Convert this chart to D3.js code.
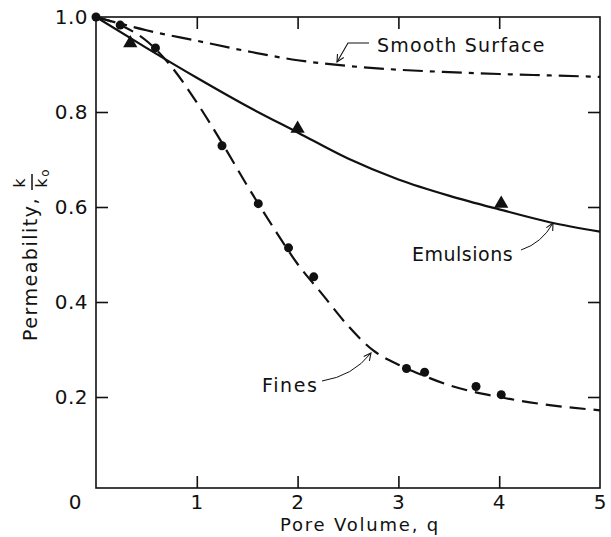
<!DOCTYPE html>
<html>
<head>
<meta charset="utf-8">
<script src="https://cdn.jsdelivr.net/npm/d3@7"></script>
<style>
  body { margin: 0; background: #fff; }
  text { font-family: "DejaVu Sans", sans-serif; fill: #111; }
</style>
</head>
<body>
<div id="chart"></div>
<script>
// curve values
var fines_q = [0, 0.25, 0.5, 0.75, 1, 1.25, 1.5, 1.75, 2, 2.25, 2.5, 2.75, 3, 3.25, 3.5, 4, 4.5, 5];
var fines_k = [1.0, 0.982, 0.95, 0.895, 0.82, 0.735, 0.645, 0.56, 0.48, 0.415, 0.35, 0.298, 0.268, 0.245, 0.225, 0.2, 0.183, 0.172];
var emul_q = [0, 0.5, 1, 1.5, 2, 2.5, 3, 3.5, 4, 4.5, 5];
var emul_k = [1.0, 0.935, 0.872, 0.812, 0.757, 0.702, 0.658, 0.624, 0.595, 0.568, 0.548];
var smooth_q = [0, 0.5, 1, 1.5, 2, 2.5, 3, 3.5, 4, 4.5, 5];
var smooth_k = [1.0, 0.972, 0.95, 0.928, 0.909, 0.897, 0.889, 0.884, 0.88, 0.877, 0.874];

// measured points
var dots_q = [0, 0.24, 0.59, 1.25, 1.61, 1.91, 2.16, 3.08, 3.26, 3.77, 4.02];
var dots_k = [1.0, 0.983, 0.935, 0.729, 0.607, 0.514, 0.453, 0.26, 0.252, 0.222, 0.205];
var tri_q = [0.34, 2.0, 4.02];
var tri_k = [0.945, 0.765, 0.607];

var xTicks = [1, 2, 3, 4, 5];
var yTicks = [0.2, 0.4, 0.6, 0.8, 1.0];

var W = 611, H = 537;
var pL = 96, pR = 600, pT = 17, pB = 488;

var svg = d3.select("#chart").append("svg")
    .attr("width", W)
    .attr("height", H);

var x = d3.scaleLinear().domain([0, 5]).range([pL, pR]);
var y = d3.scaleLinear().domain([0, 1]).range([492, pT]);

function pts(a, b) { return a.map(function(d, i) { return [d, b[i]]; }); }

var line = d3.line()
    .x(function(d) { return x(d[0]); })
    .y(function(d) { return y(d[1]); })
    .curve(d3.curveMonotoneX);

// frame
svg.append("rect")
    .attr("x", pL).attr("y", pT)
    .attr("width", pR - pL).attr("height", pB - pT)
    .attr("fill", "none").attr("stroke", "#111").attr("stroke-width", 1.6);

// inward ticks on all four sides
var tk = 12;
function noDomain(g) { g.select(".domain").remove(); g.selectAll("line").attr("stroke", "#111").attr("stroke-width", 1.6); }
svg.append("g").attr("transform", "translate(0," + pB + ")")
    .call(d3.axisBottom(x).tickValues([1, 2, 3, 4]).tickSizeInner(-tk).tickSizeOuter(0).tickFormat(""))
    .call(noDomain);
svg.append("g").attr("transform", "translate(0," + pT + ")")
    .call(d3.axisTop(x).tickValues([1, 2, 3, 4]).tickSizeInner(-tk).tickSizeOuter(0).tickFormat(""))
    .call(noDomain);
svg.append("g").attr("transform", "translate(" + pL + ",0)")
    .call(d3.axisLeft(y).tickValues([0.2, 0.4, 0.6, 0.8]).tickSizeInner(-tk).tickSizeOuter(0).tickFormat(""))
    .call(noDomain);
svg.append("g").attr("transform", "translate(" + pR + ",0)")
    .call(d3.axisRight(y).tickValues([0.2, 0.4, 0.6, 0.8]).tickSizeInner(-tk).tickSizeOuter(0).tickFormat(""))
    .call(noDomain);

// tick labels
svg.selectAll(".xl").data(xTicks).enter().append("text")
    .attr("x", function(d) { return x(d); })
    .attr("y", 509)
    .attr("text-anchor", "middle")
    .attr("font-size", 20)
    .text(function(d) { return d; });
svg.append("text").attr("x", 75).attr("y", 509).attr("text-anchor", "middle")
    .attr("font-size", 20).text("0");
svg.selectAll(".yl").data(yTicks).enter().append("text")
    .attr("x", 88)
    .attr("y", function(d) { return y(d) + 7; })
    .attr("text-anchor", "end")
    .attr("font-size", 20)
    .attr("letter-spacing", 0.5)
    .text(function(d) { return d.toFixed(1); });

// axis titles
svg.append("text").attr("x", 360).attr("y", 531).attr("text-anchor", "middle")
    .attr("font-size", 18).attr("letter-spacing", 1.8).text("Pore Volume, q");
var yt = svg.append("g").attr("transform", "translate(37,269) rotate(-90)");
yt.append("text").attr("x", 0).attr("y", 0).attr("text-anchor", "middle")
    .attr("font-size", 19).attr("letter-spacing", 1.5).text("Permeability,");
yt.append("text").attr("x", 86).attr("y", -12).attr("text-anchor", "middle")
    .attr("font-size", 16).text("k");
yt.append("line").attr("x1", 79).attr("x2", 95).attr("y1", -5).attr("y2", -5)
    .attr("stroke", "#111").attr("stroke-width", 1.5);
yt.append("text").attr("x", 86).attr("y", 10).attr("text-anchor", "middle")
    .attr("font-size", 16).text("k");
yt.append("text").attr("x", 96).attr("y", 12).attr("text-anchor", "middle")
    .attr("font-size", 12).text("o");

// curves
svg.append("path").datum(pts(smooth_q, smooth_k))
    .attr("d", line).attr("fill", "none").attr("stroke", "#111")
    .attr("stroke-width", 2.2).attr("stroke-dasharray", "20,7,5,7");
svg.append("path").datum(pts(emul_q, emul_k))
    .attr("d", line).attr("fill", "none").attr("stroke", "#111")
    .attr("stroke-width", 2.2);
svg.append("path").datum(pts(fines_q, fines_k))
    .attr("d", line).attr("fill", "none").attr("stroke", "#111")
    .attr("stroke-width", 2.2).attr("stroke-dasharray", "16,8");

// markers
svg.selectAll(".dot").data(pts(dots_q, dots_k)).enter().append("circle")
    .attr("cx", function(d) { return x(d[0]); })
    .attr("cy", function(d) { return y(d[1]); })
    .attr("r", 4.5).attr("fill", "#111");
svg.selectAll(".tri").data(pts(tri_q, tri_k)).enter().append("path")
    .attr("d", d3.symbol().type(d3.symbolTriangle).size(88))
    .attr("transform", function(d) { return "translate(" + x(d[0]) + "," + y(d[1]) + ")"; })
    .attr("fill", "#111");

// labels with pointer arrows
svg.append("defs").append("marker")
    .attr("id", "ah").attr("viewBox", "0 0 10 10").attr("refX", 9).attr("refY", 5)
    .attr("markerWidth", 9).attr("markerHeight", 9).attr("orient", "auto")
    .attr("markerUnits", "userSpaceOnUse")
    .append("path").attr("d", "M1,1 L9,5 L1,9").attr("fill", "none")
    .attr("stroke", "#111").attr("stroke-width", 1.2);

svg.append("text").attr("x", 377).attr("y", 52).attr("font-size", 19)
    .attr("letter-spacing", 1.2).text("Smooth Surface");
svg.append("path").attr("d", "M369,43 L348,43 L337,62")
    .attr("fill", "none").attr("stroke", "#111").attr("stroke-width", 1.1)
    .attr("marker-end", "url(#ah)");

svg.append("text").attr("x", 412).attr("y", 261).attr("font-size", 19)
    .attr("letter-spacing", 0.5).text("Emulsions");
svg.append("path").attr("d", "M521,250 Q542,243 553,223")
    .attr("fill", "none").attr("stroke", "#111").attr("stroke-width", 1)
    .attr("marker-end", "url(#ah)");

svg.append("text").attr("x", 262).attr("y", 392).attr("font-size", 19)
    .attr("letter-spacing", 1.6).text("Fines");
svg.append("path").attr("d", "M322,381 Q353,376 371,353")
    .attr("fill", "none").attr("stroke", "#111").attr("stroke-width", 1)
    .attr("marker-end", "url(#ah)");
</script>
</body>
</html>
